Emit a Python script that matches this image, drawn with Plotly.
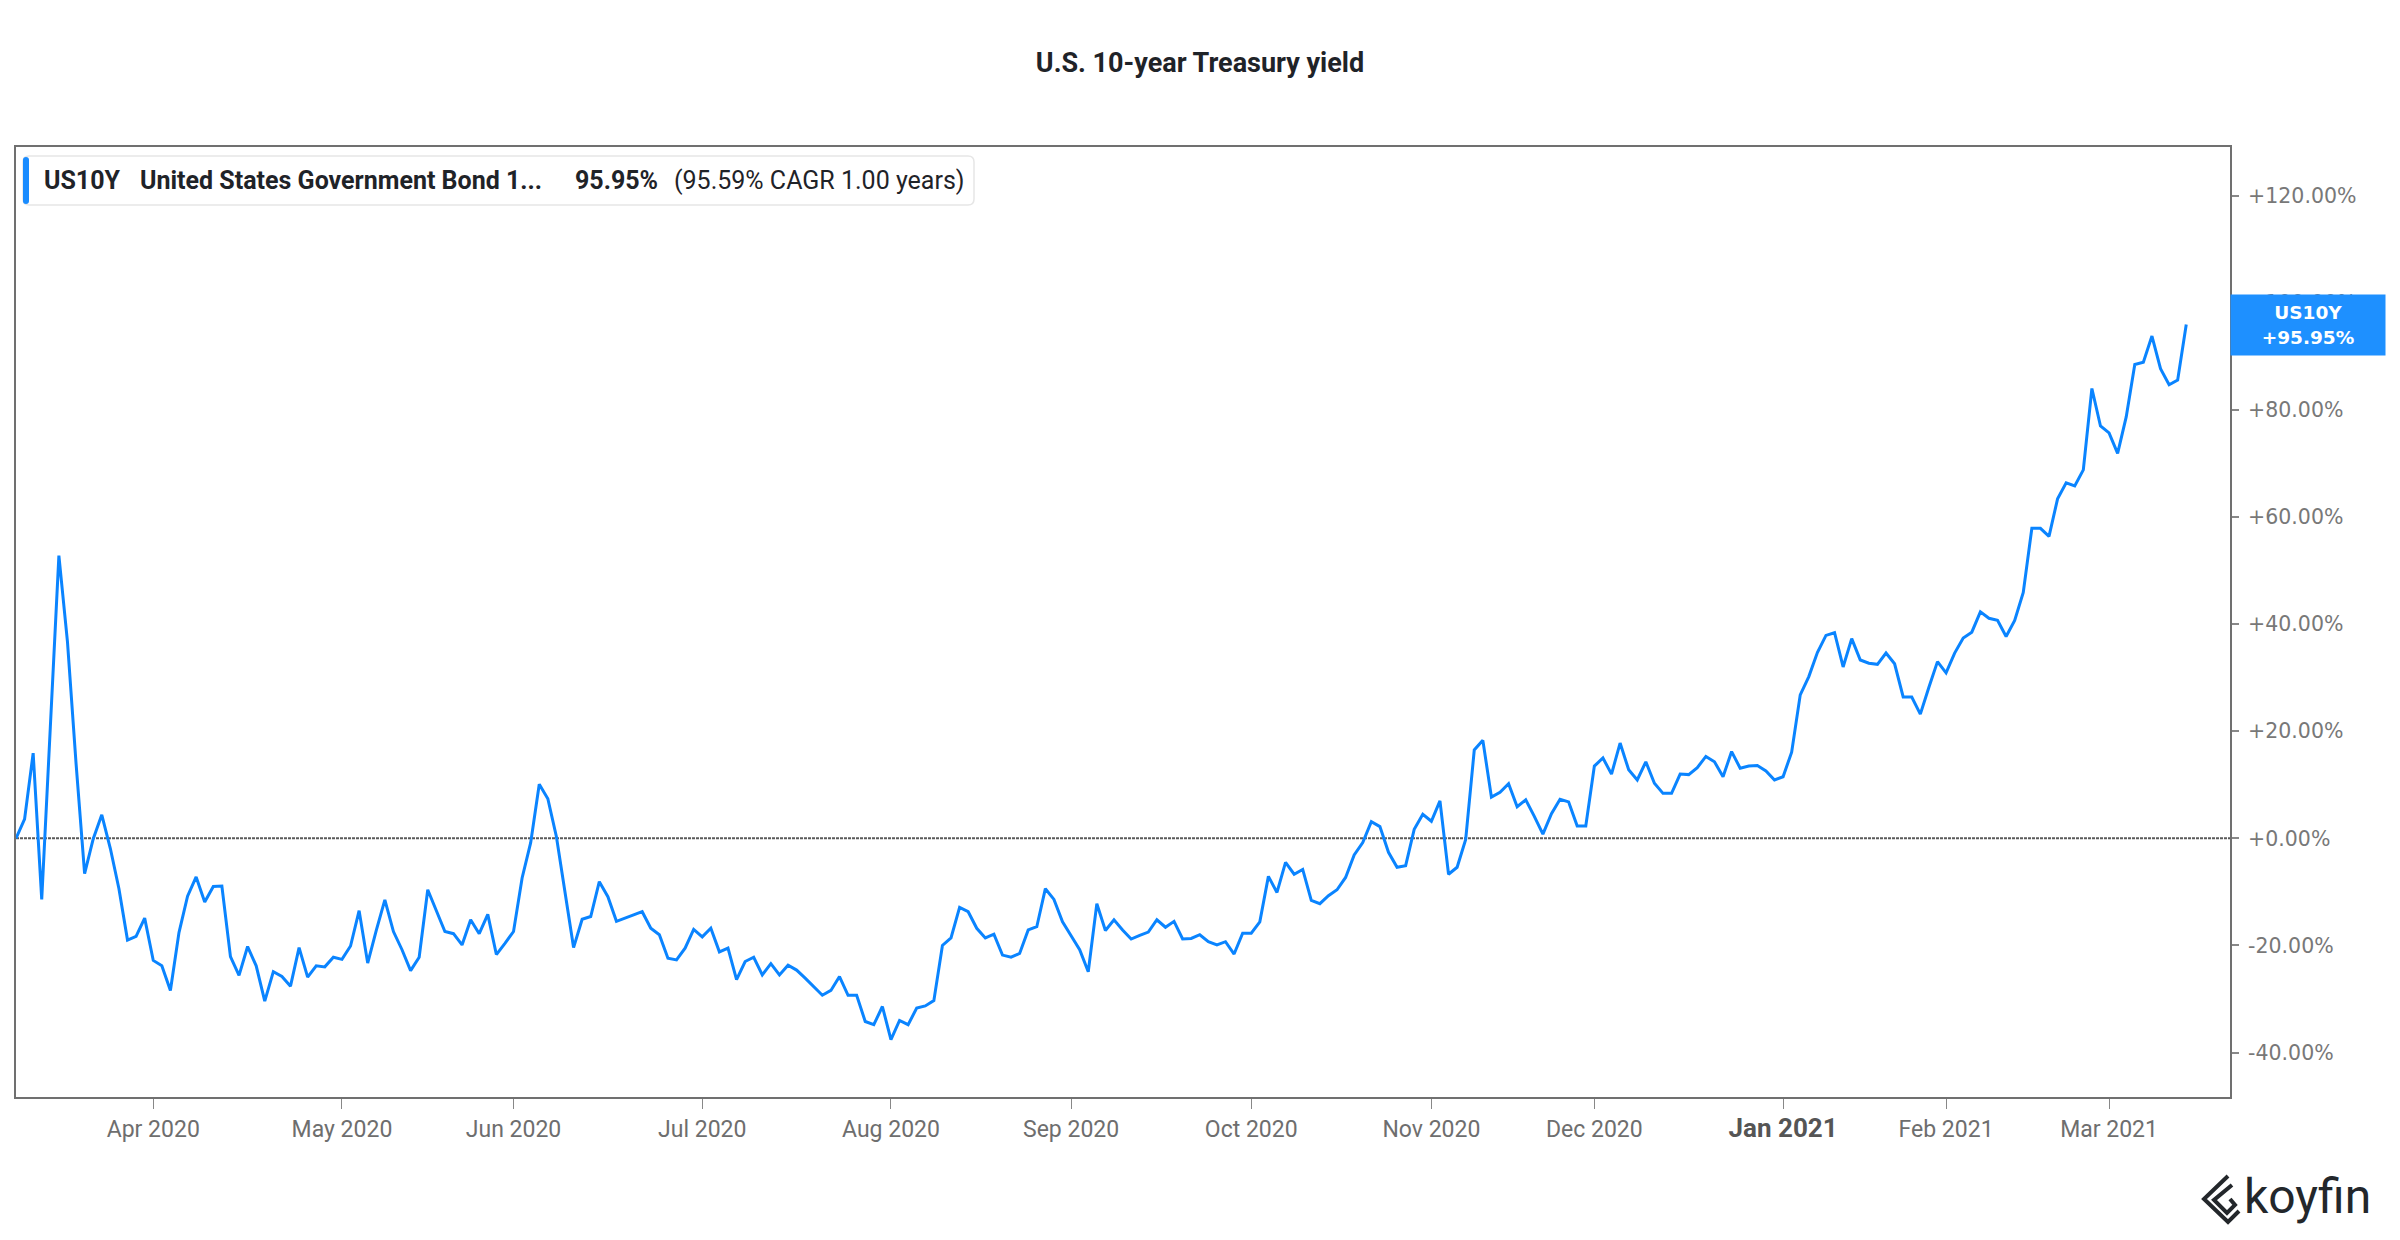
import pandas as pd
import plotly.graph_objects as go

# ---------------- data ----------------
title_text = "U.S. 10-year Treasury yield"
series_ticker = "US10Y"
series_name = "United States Government Bond 1..."
total_change_text = "95.95%"
cagr_text = "(95.59% CAGR 1.00 years)"

start_date = "2020-03-10"
market_holidays = ["2020-05-25", "2020-07-03", "2020-09-07", "2020-10-12",
                   "2020-11-11", "2020-11-26", "2020-12-25", "2021-01-01",
                   "2021-01-18", "2021-02-15"]

# cumulative change of the yield since the first day, in %
change_pct = [
    0.0, 3.6, 15.9, -11.4, 20.7, 52.8, 36.7, 14.0, -6.6, -0.1,
    4.4, -1.9, -9.4, -19.0, -18.3, -14.9, -22.8, -23.8, -28.4, -17.6,
    -10.8, -7.2, -11.9, -9.0, -8.9, -22.1, -25.6, -20.2, -23.8, -30.4,
    -24.9, -25.8, -27.6, -20.4, -25.9, -23.8, -24.0, -22.2, -22.6, -20.1,
    -13.5, -23.3, -17.2, -11.5, -17.4, -20.8, -24.7, -22.2, -9.6, -13.5,
    -17.4, -17.8, -19.9, -15.2, -17.8, -14.2, -21.7, -19.6, -17.4, -7.4,
    -0.8, 10.1, 7.4, 0.3, -9.7, -20.4, -15.1, -14.6, -8.1, -10.9,
    -15.5, -14.9, -14.3, -13.7, -16.8, -18.0, -22.4, -22.7, -20.5, -17.0,
    -18.4, -16.8, -21.2, -20.5, -26.4, -23.0, -22.2, -25.5, -23.4, -25.5,
    -23.7, -24.6, -26.1, -27.7, -29.3, -28.4, -25.8, -29.3, -29.3, -34.2,
    -34.8, -31.4, -37.6, -34.0, -34.8, -31.7, -31.3, -30.3, -20.0, -18.6,
    -12.9, -13.7, -16.8, -18.6, -17.9, -21.8, -22.2, -21.5, -17.1, -16.5,
    -9.4, -11.4, -15.6, -18.2, -20.8, -24.9, -12.2, -17.2, -15.2, -17.1,
    -18.8, -18.1, -17.5, -15.2, -16.6, -15.5, -18.8, -18.7, -18.0, -19.3,
    -19.9, -19.3, -21.6, -17.7, -17.7, -15.6, -7.1, -10.1, -4.5, -6.7,
    -5.8, -11.6, -12.2, -10.7, -9.6, -7.3, -3.1, -0.8, 3.1, 2.2,
    -2.6, -5.4, -5.1, 1.7, 4.5, 3.2, 7.0, -6.7, -5.4, -0.2,
    16.5, 18.3, 7.7, 8.6, 10.2, 5.9, 7.2, 4.1, 0.8, 4.6,
    7.3, 6.8, 2.3, 2.3, 13.5, 15.0, 12.0, 17.8, 12.8, 10.9,
    14.3, 10.3, 8.4, 8.4, 12.0, 11.9, 13.2, 15.3, 14.3, 11.5,
    16.2, 13.1, 13.5, 13.6, 12.6, 10.9, 11.5, 16.1, 26.8, 30.2,
    34.7, 37.9, 38.4, 32.0, 37.3, 33.3, 32.7, 32.5, 34.6, 32.6,
    26.4, 26.4, 23.2, 28.2, 33.0, 30.9, 34.6, 37.4, 38.5, 42.3,
    41.1, 40.7, 37.7, 40.7, 45.9, 57.9, 57.9, 56.4, 63.4, 66.4,
    65.8, 68.8, 84.0, 77.0, 75.7, 71.9, 78.7, 88.5, 88.9, 93.8,
    87.7, 84.7, 85.6, 95.95,
]

tick_months = ["2020-04", "2020-05", "2020-06", "2020-07", "2020-08", "2020-09",
               "2020-10", "2020-11", "2020-12", "2021-01", "2021-02", "2021-03"]
tick_labels = ["Apr 2020", "May 2020", "Jun 2020", "Jul 2020", "Aug 2020", "Sep 2020",
               "Oct 2020", "Nov 2020", "Dec 2020", "Jan 2021", "Feb 2021", "Mar 2021"]
year_start_label = "Jan 2021"
y_ticks = [-40, -20, 0, 20, 40, 60, 80, 100, 120]

# ---------------- derived ----------------
dates = pd.bdate_range(start=start_date, periods=len(change_pct), freq="C",
                       holidays=market_holidays)
date_labels = [d.strftime("%Y-%m-%d") for d in dates]
tickvals = [next(d for d in date_labels if d.startswith(m)) for m in tick_months]
ticktext = [
    ('<span style="font-size:26px;color:#555555"><b>%s</b></span>' % t)
    if t == year_start_label else t
    for t in tick_labels
]
y_ticktext = ["%+.2f%%" % v for v in y_ticks]

# page geometry (page pixels); the page body adds an 8px margin
OFF = 8
FIG_W, FIG_H = 2384, 1224
PL, PR, PT, PB = 16, 2230, 147, 1097


def pxx(x):
    return (x - PL) / (PR - PL)


def pxy(y):
    return (PB - y) / (PB - PT)


def rounded_rect(x0, y0, x1, y1, r):
    pts = []
    pts.append("M %f,%f" % (pxx(x0 + r), pxy(y0)))
    pts.append("L %f,%f" % (pxx(x1 - r), pxy(y0)))
    pts.append("Q %f,%f %f,%f" % (pxx(x1), pxy(y0), pxx(x1), pxy(y0 + r)))
    pts.append("L %f,%f" % (pxx(x1), pxy(y1 - r)))
    pts.append("Q %f,%f %f,%f" % (pxx(x1), pxy(y1), pxx(x1 - r), pxy(y1)))
    pts.append("L %f,%f" % (pxx(x0 + r), pxy(y1)))
    pts.append("Q %f,%f %f,%f" % (pxx(x0), pxy(y1), pxx(x0), pxy(y1 - r)))
    pts.append("L %f,%f" % (pxx(x0), pxy(y0 + r)))
    pts.append("Q %f,%f %f,%f Z" % (pxx(x0), pxy(y0), pxx(x0 + r), pxy(y0)))
    return " ".join(pts)


def polyline(points):
    return " ".join(("M" if i == 0 else "L") + " %f,%f" % (pxx(x), pxy(y))
                    for i, (x, y) in enumerate(points))


LINE_BLUE = "#0a84ff"
DARK = "#1f2328"

fig = go.Figure()
fig.add_trace(go.Scatter(
    x=date_labels, y=change_pct, mode="lines",
    line=dict(color=LINE_BLUE, width=3),
    name=series_ticker, showlegend=False,
    hovertemplate="%{x}<br>%{y:+.2f}%<extra></extra>",
))

n_slots = 258.1
shapes = [
    # zero reference line
    dict(type="line", xref="paper", x0=0, x1=1, yref="y", y0=0, y1=0,
         line=dict(color="#5a5a5a", width=2, dash="3px,1px"), layer="below"),
    # legend box
    dict(type="path", xref="paper", yref="paper",
         path=rounded_rect(23, 156, 974, 205, 6),
         fillcolor="white", line=dict(color="#e6e6e6", width=1.5), layer="above"),
    dict(type="path", xref="paper", yref="paper",
         path=rounded_rect(23, 157, 29, 204, 3),
         fillcolor="#1a8cff", line=dict(width=0), layer="above"),
    # koyfin logo mark
    dict(type="path", xref="paper", yref="paper",
         path=polyline([(2228, 1176), (2204, 1199), (2228, 1222), (2239, 1211)]),
         line=dict(color="#23272b", width=4)),
    dict(type="path", xref="paper", yref="paper",
         path=polyline([(2232, 1185), (2214, 1200), (2227, 1213), (2235, 1205), (2230, 1199)]),
         line=dict(color="#23272b", width=4)),
]

legend_font = dict(family="Roboto", size=25, color=DARK)
annotations = [
    dict(text="<b>%s</b>" % series_ticker, xref="paper", yref="paper",
         x=pxx(42), y=pxy(181), xanchor="left", yanchor="middle", showarrow=False,
         font=legend_font),
    dict(text="<b>%s</b>" % series_name, xref="paper", yref="paper",
         x=pxx(138), y=pxy(181), xanchor="left", yanchor="middle", showarrow=False,
         font=legend_font),
    dict(text="<b>%s</b>" % total_change_text, xref="paper", yref="paper",
         x=pxx(573), y=pxy(181), xanchor="left", yanchor="middle", showarrow=False,
         font=legend_font),
    dict(text=cagr_text, xref="paper", yref="paper",
         x=pxx(672), y=pxy(181), xanchor="left", yanchor="middle", showarrow=False,
         font=legend_font),
    # last value tag
    dict(text="<b>%s<br>%+.2f%%</b>" % (series_ticker, change_pct[-1]),
         xref="paper", yref="y", x=1, y=change_pct[-1],
         xanchor="left", yanchor="middle", showarrow=False, align="center",
         bgcolor="#1e90ff", borderpad=0, width=154, height=60,
         font=dict(family="DejaVu Sans", size=18.5, color="white")),
    # brand
    dict(text="koyfin", xref="paper", yref="paper",
         x=pxx(2242), y=pxy(1196), xanchor="left", yanchor="middle", showarrow=False,
         font=dict(family="Roboto", size=48, color="#23272b")),
]

fig.update_layout(
    width=FIG_W, height=FIG_H,
    paper_bgcolor="white", plot_bgcolor="white",
    margin=dict(l=PL - OFF, r=FIG_W - (PR - OFF), t=PT - OFF, b=FIG_H - (PB - OFF), pad=0),
    title=dict(text="<b>%s</b>" % title_text, x=(1200 - OFF) / FIG_W, xref="container",
               y=1 - (63 - OFF) / FIG_H, yref="container", xanchor="center", yanchor="middle",
               font=dict(family="Roboto", size=27, color=DARK)),
    showlegend=False,
    shapes=shapes,
    annotations=annotations,
    xaxis=dict(
        type="category", range=[0, n_slots], automargin=False,
        showgrid=False, zeroline=False,
        showline=True, mirror=True, linecolor="#707070", linewidth=2,
        ticks="outside", ticklen=10, tickwidth=1, tickcolor="#888888",
        tickvals=tickvals, ticktext=ticktext,
        tickfont=dict(family="Roboto", size=23, color="#6e6e6e"),
        ticklabelstandoff=0,
    ),
    yaxis=dict(
        side="right", range=[-48.3, 129.1], automargin=False,
        showgrid=False, zeroline=False,
        showline=True, mirror=True, linecolor="#707070", linewidth=2,
        ticks="outside", ticklen=7, tickwidth=2, tickcolor="#888888",
        tickvals=y_ticks, ticktext=y_ticktext,
        tickfont=dict(family="DejaVu Sans", size=20.5, color="#787878"),
        ticklabelstandoff=5,
    ),
)

fig.write_html("out.html")
